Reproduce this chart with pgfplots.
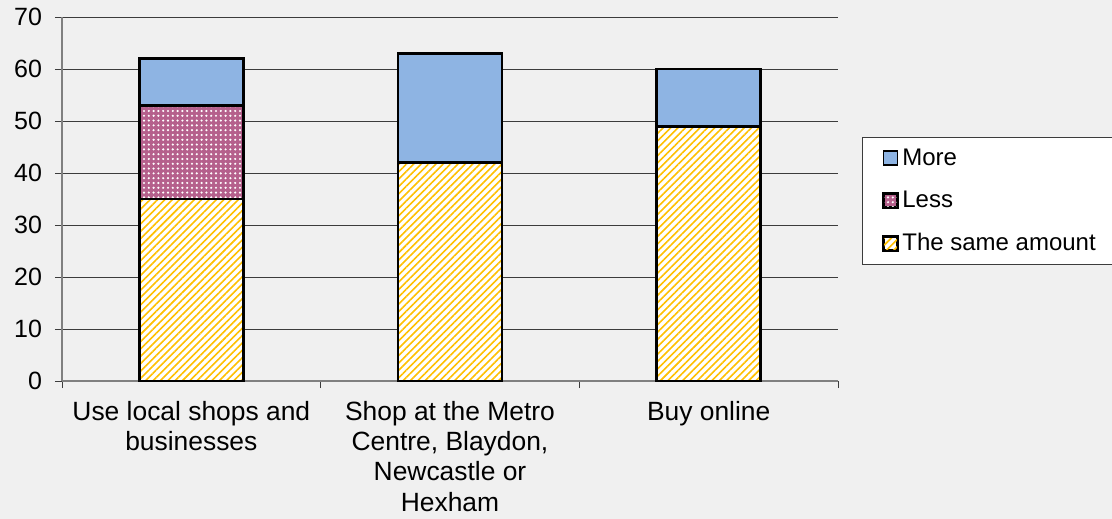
\documentclass[border=0pt]{standalone}
\usepackage{fontspec}
\setmainfont{Liberation Sans}
\usepackage{pgfplots}
\pgfplotsset{compat=1.18}
\usetikzlibrary{patterns,patterns.meta}
\definecolor{bg}{RGB}{240,240,240}
\definecolor{moreblue}{RGB}{142,180,227}
\definecolor{stripe}{RGB}{255,192,0}
\definecolor{pinkc}{RGB}{163,56,111}
\definecolor{gridc}{RGB}{60,60,60}
\definecolor{axc}{RGB}{128,128,128}
\begin{document}
\begin{tikzpicture}
\fill[bg] (-31bp,-69bp) rectangle (525bp,190.5bp);
\useasboundingbox (-31bp,-69bp) rectangle (525bp,190.5bp);
\begin{axis}[
  at={(0,0)}, anchor=south west,
  scale only axis, width=388bp, height=182bp,
  ybar stacked, bar width=52bp,
  xmin=-0.5, xmax=2.5, ymin=0, ymax=70,
  ytick={0,10,...,70},
  axis x line*=bottom, axis y line*=left,
  axis line style={draw=axc, line width=0.75bp},
  tick align=outside,
  major tick length=3.5bp,
  tick style={draw=gridc, line width=0.5bp},
  ymajorgrids, major grid style={draw=gridc, line width=0.5bp},
  xtick={-0.5,0.5,1.5,2.5}, xticklabels={},
  extra x ticks={0,1,2},
  extra x tick labels={{Use local shops and\\businesses},{Shop at the Metro\\Centre, Blaydon,\\Newcastle or\\Hexham},{Buy online}},
  extra x tick style={major tick length=0pt, grid=none, xticklabel style={align=center, font=\fontsize{13.2bp}{15.2bp}\selectfont, yshift=-6.5bp}},
  yticklabel style={font=\fontsize{12.5bp}{14bp}\selectfont, xshift=-3bp},
  /pgf/number format/assume math mode=true,
  reverse legend,
  legend cell align=left,
  legend style={at={(1.031,0.670)}, anchor=north west, fill=white, draw=gridc, line width=0.5bp,
    font=\fontsize{12bp}{14bp}\selectfont, inner xsep=10bp, inner ysep=3.5bp, row sep=7.5bp,
    /tikz/every odd column/.append style={column sep=0bp}},
  legend image code/.code={\draw[#1, line width=0.9bp] (0bp,-3.5bp) rectangle (7bp,3.5bp);},
]
\addplot[preaction={fill=white}, pattern={Lines[angle=45,distance=2.6bp,line width=0.8bp]}, pattern color=stripe, draw=black, line width=1.4bp]
  coordinates {(0,35) (1,42) (2,49)};
\addlegendentry{The same amount}
\addplot[preaction={fill=pinkc!80}, pattern={Dots[distance=2.4bp,radius=0.6bp]}, pattern color=white, draw=black, line width=1.4bp]
  coordinates {(0,18) (1,0) (2,0)};
\addlegendentry{Less}
\addplot[fill=moreblue, draw=black, line width=1.4bp]
  coordinates {(0,9) (1,21) (2,11)};
\addlegendentry{More}
\end{axis}
\end{tikzpicture}
\end{document}
